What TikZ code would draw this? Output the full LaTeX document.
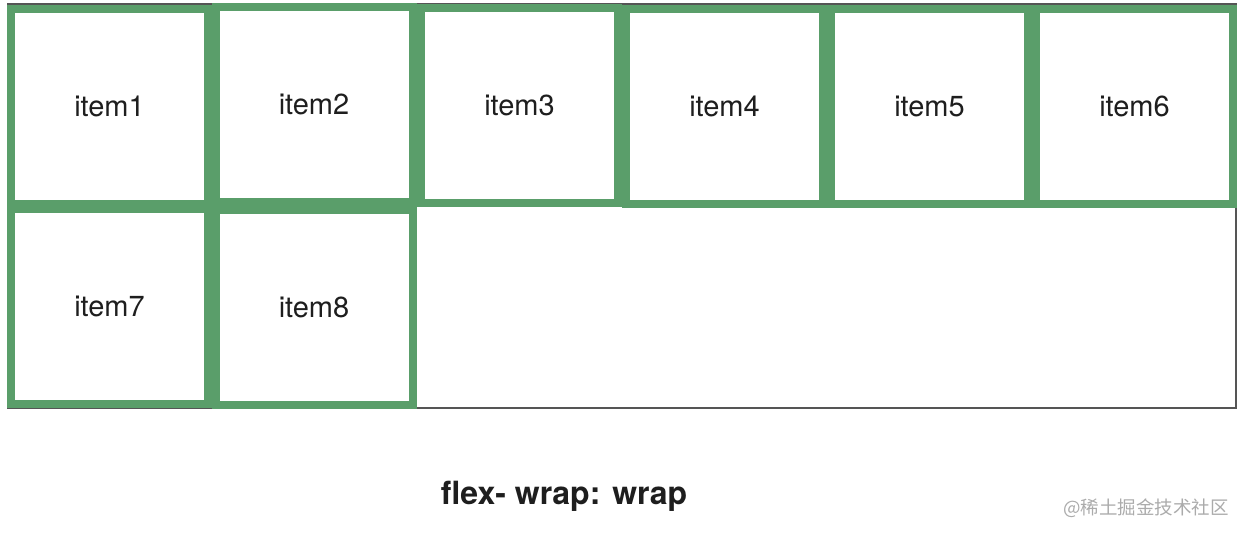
\documentclass[tikz,border=0pt]{standalone}
\usepackage{fontspec}
\setmainfont{TeX Gyre Heros}
\newfontfamily\cjkfont{Noto Sans CJK SC}
\definecolor{itemgreen}{RGB}{90,158,106}
\definecolor{boxgray}{RGB}{85,85,85}
\definecolor{inktext}{RGB}{30,30,30}
\begin{document}
\begin{tikzpicture}[x=1pt, y=-1pt, line join=miter,
		itembox/.style={draw=itemgreen, line width=8pt, fill=white, minimum width=197pt, minimum height=195pt, inner sep=0pt, text=inktext, font=\fontsize{29}{29}\selectfont}]
			\useasboundingbox (0,0) rectangle (1244,536);
			%%%%%%%%%%%%%%%%%%%%%%%%%%%%%%%%%
			\draw[boxgray, line width=2.5pt] (8,4) rectangle (1236,408);
			%%%%%%%%%%%%%%%%%%%%%%%%%%%%%%%%%
			\node[itembox] (item1) at (109.5,106) {item1};
			\node[itembox] (item2) at (314,104) {item2};
			\node[itembox] (item3) at (519.5,105) {item3};
			\node[itembox] (item4) at (724.5,106.5) {item4};
			\node[itembox] (item5) at (929.5,106.5) {item5};
			\node[itembox] (item6) at (1134.5,106.5) {item6};
			\node[itembox] (item7) at (109.5,306.5) {item7};
			\node[itembox] (item8) at (314,307.5) {item8};
			%%%%%%%%%%%%%%%%%%%%%%%%%%%%%%%%%
			\node[text=inktext, font=\fontsize{32}{32}\selectfont\bfseries] (caption) at (564,496) {flex- wrap: wrap};
			\node[text=black!33, font=\cjkfont\fontsize{18.5}{18.5}\selectfont] (mark) at (1146,508) {@稀土掘金技术社区};
			%%%%%%%%%%%%%%%%%%%%%%%%%%%%%%%%%
		\end{tikzpicture}
\end{document}
